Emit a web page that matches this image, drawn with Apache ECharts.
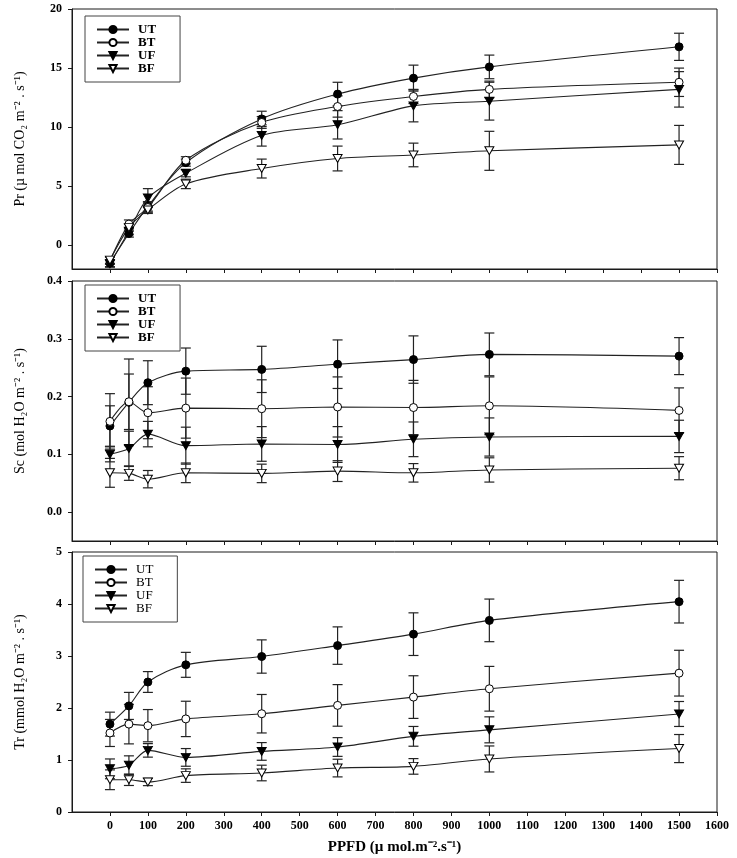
<!DOCTYPE html>
<html><head><meta charset="utf-8">
<script src="https://cdn.jsdelivr.net/npm/echarts@6/dist/echarts.min.js"></script>
<style>html,body{margin:0;padding:0;background:#fff}#c{width:737px;height:858px}</style>
</head><body><div id="c"></div>
<script>
// PPFD levels
const ppfd = [0, 50, 100, 200, 400, 600, 800, 1000, 1500];
const seriesNames = ['UT', 'BT', 'UF', 'BF'];
const xTickLabels = [0,100,200,300,400,500,600,700,800,900,1000,1100,1200,1300,1400,1500,1600];

// Pr (net photosynthetic rate)
const prUT = [-1.5, 1.0, 3.3, 7.0, 10.7, 12.8, 14.15, 15.1, 16.8];
const prBT = [-1.3, 1.8, 3.2, 7.2, 10.4, 11.75, 12.6, 13.2, 13.8];
const prUF = [-1.55, 1.2, 4.0, 6.1, 9.3, 10.2, 11.8, 12.2, 13.2];
const prBF = [-1.25, 1.5, 3.0, 5.2, 6.5, 7.35, 7.65, 8.0, 8.5];
const prUTerr = [0.3, 0.3, 0.4, 0.3, 0.65, 1.0, 1.1, 1.0, 1.15];
const prBTerr = [0.3, 0.35, 0.4, 0.3, 0.5, 0.9, 0.6, 0.7, 1.2];
const prUFerr = [0.3, 0.3, 0.8, 0.3, 0.9, 1.2, 1.35, 1.6, 1.5];
const prBFerr = [0.3, 0.3, 0.3, 0.4, 0.8, 1.05, 1.0, 1.65, 1.65];

// Sc (stomatal conductance)
const scUT = [0.149, 0.19, 0.224, 0.244, 0.247, 0.256, 0.264, 0.273, 0.270];
const scBT = [0.157, 0.191, 0.172, 0.180, 0.179, 0.182, 0.181, 0.184, 0.176];
const scUF = [0.100, 0.110, 0.135, 0.115, 0.118, 0.117, 0.126, 0.130, 0.131];
const scBF = [0.068, 0.067, 0.057, 0.068, 0.067, 0.071, 0.068, 0.073, 0.076];
const scUTerr = [0.035, 0.075, 0.038, 0.040, 0.040, 0.042, 0.041, 0.037, 0.032];
const scBTerr = [0.048, 0.048, 0.045, 0.052, 0.050, 0.052, 0.047, 0.050, 0.039];
const scUFerr = [0.013, 0.030, 0.022, 0.032, 0.030, 0.031, 0.030, 0.033, 0.028];
const scBFerr = [0.025, 0.012, 0.015, 0.017, 0.016, 0.018, 0.016, 0.021, 0.020];

// Tr (transpiration rate)
const trUT = [1.69, 2.04, 2.50, 2.83, 2.99, 3.20, 3.42, 3.685, 4.045];
const trBT = [1.52, 1.69, 1.66, 1.79, 1.89, 2.05, 2.21, 2.37, 2.67];
const trUF = [0.83, 0.90, 1.185, 1.05, 1.165, 1.25, 1.455, 1.58, 1.885];
const trBF = [0.62, 0.62, 0.577, 0.70, 0.75, 0.845, 0.877, 1.02, 1.22];
const trUTerr = [0.23, 0.26, 0.20, 0.24, 0.32, 0.36, 0.41, 0.41, 0.41];
const trBTerr = [0.26, 0.38, 0.31, 0.34, 0.37, 0.40, 0.41, 0.43, 0.44];
const trUFerr = [0.19, 0.18, 0.13, 0.17, 0.17, 0.18, 0.19, 0.25, 0.24];
const trBFerr = [0.19, 0.11, 0.07, 0.13, 0.15, 0.17, 0.15, 0.25, 0.27];

const FONT = 'Liberation Serif';
const INK = '#1a1a1a';
const downTri = 'path://M0,0L10,0L5,9Z';
const markerDefs = {
  UT: {symbol: 'circle', size: 8, fill: '#000'},
  BT: {symbol: 'circle', size: 8, fill: '#fff'},
  UF: {symbol: downTri, size: [9, 8], fill: '#000'},
  BF: {symbol: downTri, size: [9, 8], fill: '#fff'}
};

const panels = [
  {vals: [prUT, prBT, prUF, prBF], errs: [prUTerr, prBTerr, prUFerr, prBFerr]},
  {vals: [scUT, scBT, scUF, scBF], errs: [scUTerr, scBTerr, scUFerr, scBFerr]},
  {vals: [trUT, trBT, trUF, trBF], errs: [trUTerr, trBTerr, trUFerr, trBFerr]}
];

const gridTops = [9, 281, 552];
const grids = gridTops.map(t => ({left: 72, width: 645, top: t, height: 260,
  show: true, borderColor: INK, borderWidth: 1, backgroundColor: 'transparent'}));

const xAxes = [0, 1, 2].map(i => ({
  type: 'value', gridIndex: i, min: -100, max: 1600, interval: 100,
  splitLine: {show: false},
  axisLine: {onZero: false, lineStyle: {color: INK, width: 1}},
  axisTick: {show: true, inside: false, length: 4, lineStyle: {color: INK},
    customValues: xTickLabels},
  axisLabel: {show: i === 2, customValues: xTickLabels, margin: 8,
    formatter: v => String(v),
    fontFamily: FONT, fontWeight: 'bold', fontSize: 12, color: '#000'},
  name: i === 2 ? 'PPFD (µ mol.m⁻².s⁻¹)' : '',
  nameLocation: 'middle', nameGap: 28,
  nameTextStyle: {fontFamily: FONT, fontWeight: 'bold', fontSize: 15, color: '#000'}
}));

const yCfg = [
  {min: -2, max: 20, ticks: [0, 5, 10, 15, 20], fmt: v => String(v), name: 'Pr (µ mol CO₂ m⁻² . s⁻¹)'},
  {min: -0.05, max: 0.4, ticks: [0, 0.1, 0.2, 0.3, 0.4], fmt: v => v.toFixed(1), name: 'Sc (mol H₂O m⁻² . s⁻¹)'},
  {min: 0, max: 5, ticks: [0, 1, 2, 3, 4, 5], fmt: v => String(v), name: 'Tr (mmol H₂O m⁻² . s⁻¹)'}
];
const yAxes = yCfg.map((c, i) => ({
  type: 'value', gridIndex: i, min: c.min, max: c.max,
  splitLine: {show: false},
  axisLine: {show: true, onZero: false, lineStyle: {color: INK, width: 1}},
  axisTick: {show: true, inside: false, length: 4, lineStyle: {color: INK}, customValues: c.ticks},
  axisLabel: {customValues: c.ticks, formatter: c.fmt, margin: 10,
    fontFamily: FONT, fontWeight: 'bold', fontSize: 12, color: '#000'},
  name: c.name, nameLocation: 'middle', nameGap: 45, nameRotate: 90,
  nameTextStyle: {fontFamily: FONT, fontSize: 14, color: '#000'}
}));

function errRender(params, api) {
  const x = api.value(0), lo = api.value(1), hi = api.value(2);
  const a = api.coord([x, hi]), b = api.coord([x, lo]);
  const w = 5, st = {stroke: '#222', lineWidth: 1.2};
  return {type: 'group', children: [
    {type: 'line', shape: {x1: a[0], y1: a[1], x2: b[0], y2: b[1]}, style: st},
    {type: 'line', shape: {x1: a[0] - w, y1: a[1], x2: a[0] + w, y2: a[1]}, style: st},
    {type: 'line', shape: {x1: b[0] - w, y1: b[1], x2: b[0] + w, y2: b[1]}, style: st}
  ]};
}

const series = [];
panels.forEach((p, gi) => {
  seriesNames.forEach((nm, si) => {
    const vals = p.vals[si], errs = p.errs[si];
    series.push({
      type: 'custom', xAxisIndex: gi, yAxisIndex: gi, z: 1, silent: true,
      renderItem: errRender, encode: {x: 0, y: [1, 2]},
      data: ppfd.map((x, k) => [x, vals[k] - errs[k], vals[k] + errs[k]])
    });
  });
  seriesNames.forEach((nm, si) => {
    const m = markerDefs[nm];
    series.push({
      name: nm, type: 'line', xAxisIndex: gi, yAxisIndex: gi, z: 3,
      smooth: 0.3, symbol: m.symbol, symbolSize: m.size, showSymbol: true,
      lineStyle: {color: '#222', width: 1.1},
      itemStyle: {color: m.fill, borderColor: '#000', borderWidth: 1, opacity: 1},
      data: ppfd.map((x, k) => [x, p.vals[si][k]])
    });
  });
});

const legendTops = [16, 285, 556];
const legend = legendTops.map((t, i) => ({
  orient: 'vertical', left: i === 2 ? 83 : 85, top: t,
  itemGap: 0, itemWidth: 32, itemHeight: 9,
  padding: [7, 24, 7, 11],
  borderColor: '#444', borderWidth: 1, backgroundColor: '#fff',
  textStyle: {fontFamily: FONT, fontWeight: i === 2 ? 'normal' : 'bold', fontSize: 13,
    lineHeight: 13, color: '#000', padding: [0, 0, 0, 4]},
  selectedMode: false,
  data: seriesNames
}));

const chart = echarts.init(document.getElementById('c'), null, {renderer: 'canvas'});
chart.setOption({
  animation: false,
  backgroundColor: '#fff',
  grid: grids,
  xAxis: xAxes,
  yAxis: yAxes,
  legend: legend,
  series: series
});
</script></body></html>
